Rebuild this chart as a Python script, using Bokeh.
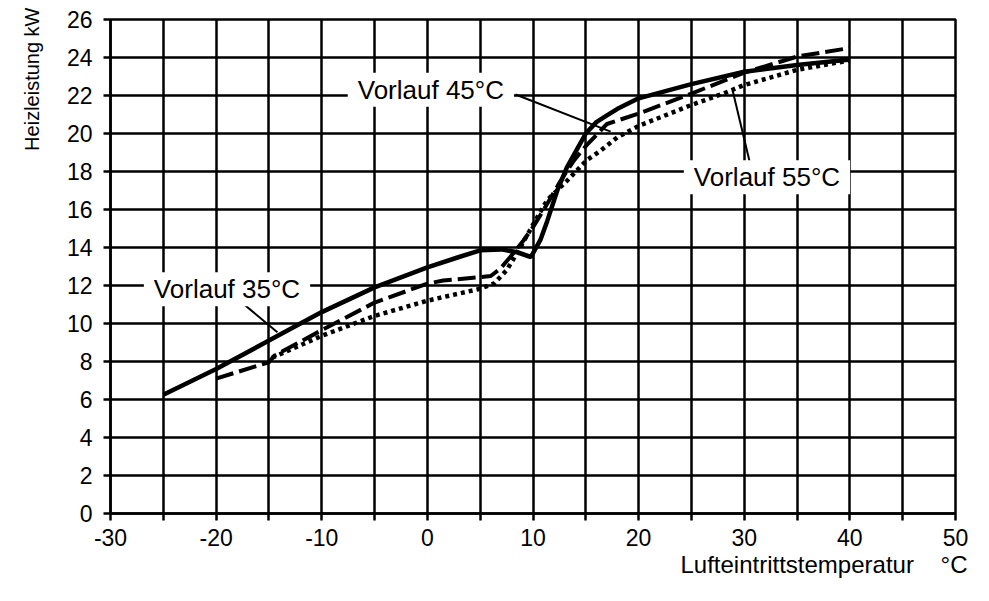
from bokeh.plotting import figure
from bokeh.models import FixedTicker, Label, Title
from bokeh.embed import file_html
from bokeh.resources import INLINE

# Lufteintrittstemperatur (°C) / Heizleistung (kW)
x_35 = [-25, -20, -15, -10, -5, 0, 3, 5, 7, 8.5, 9.8, 10.7, 11.35, 12.3, 13.2, 14.2, 15.0, 16, 17, 18, 20, 25, 30, 35, 40]
y_35 = [6.25, 7.6, 9.1, 10.6, 11.9, 12.95, 13.5, 13.85, 13.9, 13.75, 13.5, 14.4, 15.4, 17.0, 18.2, 19.2, 20.0, 20.6, 20.95, 21.3, 21.85, 22.6, 23.25, 23.6, 23.9]

x_45 = [-20, -15, -14.5, -10, -5, 0, 1.5, 5, 6, 6.9, 8.1, 9.1, 10, 11.35, 12.6, 13.9, 15.1, 17, 20, 25, 30, 35, 40]
y_45 = [7.1, 7.96, 8.3, 9.65, 11.1, 12.1, 12.26, 12.44, 12.5, 12.88, 13.67, 14.37, 15.07, 16.3, 17.5, 18.6, 19.4, 20.5, 21.05, 22.1, 23.2, 24.05, 24.5]

x_55 = [-14.7, -10, -5, 0, 5, 6.3, 7.5, 8.8, 10, 11.35, 13.2, 15.1, 16.4, 18, 20, 25, 28, 30, 35, 40]
y_55 = [8.2, 9.35, 10.4, 11.2, 11.83, 12.1, 12.8, 14.0, 15.2, 16.5, 17.5, 18.6, 19.1, 19.8, 20.4, 21.5, 22.1, 22.55, 23.35, 23.85]

x_ticks = [-30, -25, -20, -15, -10, -5, 0, 5, 10, 15, 20, 25, 30, 35, 40, 45, 50]
x_tick_labels = {t: (str(t) if t % 10 == 0 else "") for t in x_ticks}
y_ticks = [0, 2, 4, 6, 8, 10, 12, 14, 16, 18, 20, 22, 24, 26]

series_labels = ["Vorlauf 35°C", "Vorlauf 45°C", "Vorlauf 55°C"]
x_title = "Lufteintrittstemperatur\u00a0\u00a0\u00a0\u00a0°C"
y_title = "Heizleistung kW"

FONT = "Liberation Sans"

p = figure(width=989, height=601, x_range=(-30, 50), y_range=(0, 26),
           output_backend="svg", toolbar_location=None,
           min_border_left=110, min_border_right=34, min_border_top=19, min_border_bottom=88)
p.background_fill_color = "white"
p.border_fill_color = "white"
p.outline_line_color = "black"
p.outline_line_width = 2.5

p.xaxis.ticker = FixedTicker(ticks=x_ticks)
p.xaxis.major_label_overrides = x_tick_labels
p.yaxis.ticker = FixedTicker(ticks=y_ticks)
p.xgrid.ticker = FixedTicker(ticks=x_ticks)
p.ygrid.ticker = FixedTicker(ticks=y_ticks)

for g in (p.xgrid, p.ygrid):
    g.grid_line_color = "black"
    g.grid_line_width = 2.5
    g.grid_line_alpha = 1.0

for ax in (p.xaxis, p.yaxis):
    ax.axis_line_color = "black"
    ax.axis_line_width = 2.5
    ax.major_tick_line_color = "black"
    ax.major_tick_line_width = 2.5
    ax.major_tick_out = 7
    ax.major_tick_in = 0
    ax.minor_tick_line_color = None
    ax.major_label_text_font = FONT
    ax.major_label_text_font_size = "23px"
    ax.major_label_text_color = "black"
p.yaxis.major_label_standoff = 11
p.xaxis.major_label_standoff = 8

# curves
p.line(x_35, y_35, line_color="black", line_width=4.5)
p.line(x_45, y_45, line_color="black", line_width=4, line_dash="18 6")
p.line(x_55, y_55, line_color="black", line_width=4.5, line_dash="4 4")

# leader lines
p.line([-18.0, -14.2], [11.3, 9.54], line_color="black", line_width=2)
p.line([8.35, 17.35], [22.05, 20.1], line_color="black", line_width=2)
p.line([30.9, 28.9], [17.6, 22.26], line_color="black", line_width=2)

label_pos = [(-18.97, 11.8), (0.33, 22.3), (32.15, 17.7)]
for (lx, ly), txt in zip(label_pos, series_labels):
    p.add_layout(Label(x=lx, y=ly, text=txt, text_align="center", text_baseline="middle",
                       text_font=FONT, text_font_size="26px", text_color="black",
                       background_fill_color="white", background_fill_alpha=1.0,
                       padding=dict(left=10, right=10, top=2, bottom=2)))

# axis titles
p.add_layout(Title(text=x_title, align="right", offset=-12, standoff=0,
                   text_font=FONT, text_font_size="24px", text_font_style="normal",
                   text_color="black"), "below")
p.add_layout(Title(text=y_title, align="right", vertical_align="top", offset=-12, standoff=38,
                   text_font=FONT, text_font_size="20px", text_font_style="normal",
                   text_color="black"), "left")

open("out.html", "w").write(file_html(p, INLINE))
